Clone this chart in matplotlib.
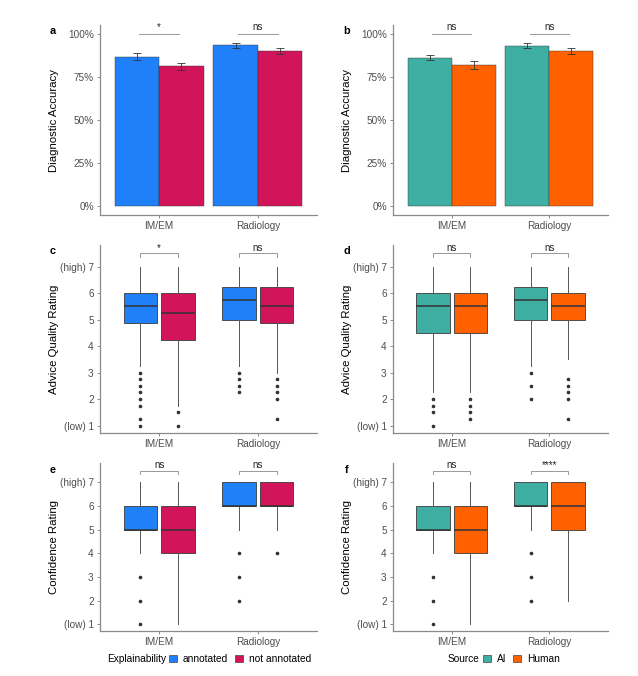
import matplotlib
matplotlib.use("Agg")
import matplotlib.pyplot as plt
from matplotlib.patches import Patch

plt.rcParams['font.family'] = ['Liberation Sans', 'DejaVu Sans']

# ---- data ----
categories = ["IM/EM", "Radiology"]

# diagnostic accuracy (mean, error half-width)
acc_annot = [0.867, 0.932]
acc_annot_err = [0.019, 0.015]
acc_notannot = [0.811, 0.898]
acc_notannot_err = [0.021, 0.017]
acc_ai = [0.861, 0.931]
acc_ai_err = [0.014, 0.013]
acc_human = [0.819, 0.902]
acc_human_err = [0.023, 0.017]

# box stats per category: [whisker low, q1, median, q3, whisker high]
qual_annot_box = [[3.25, 4.875, 5.5, 6.0, 7.0], [3.25, 5.0, 5.75, 6.25, 7.0]]
qual_annot_out = [[3.0, 2.75, 2.5, 2.25, 2.0, 1.75, 1.25, 1.0], [3.0, 2.75, 2.5, 2.25]]
qual_notannot_box = [[1.75, 4.25, 5.25, 6.0, 7.0], [3.0, 4.875, 5.5, 6.25, 7.0]]
qual_notannot_out = [[1.5, 1.0], [2.75, 2.5, 2.25, 2.0, 1.25]]
qual_ai_box = [[2.25, 4.5, 5.5, 6.0, 7.0], [3.25, 5.0, 5.75, 6.25, 7.0]]
qual_ai_out = [[2.0, 1.75, 1.5, 1.0], [3.0, 2.5, 2.0]]
qual_human_box = [[2.25, 4.5, 5.5, 6.0, 7.0], [3.5, 5.0, 5.5, 6.0, 7.0]]
qual_human_out = [[2.0, 1.75, 1.5, 1.25], [2.75, 2.5, 2.25, 2.0, 1.25]]

conf_annot_box = [[4, 5, 5, 6, 7], [5, 6, 6, 7, 7]]
conf_annot_out = [[3, 2, 1], [4, 3, 2]]
conf_notannot_box = [[1, 4, 5, 6, 7], [5, 6, 6, 7, 7]]
conf_notannot_out = [[], [4]]
conf_ai_box = [[4, 5, 5, 6, 7], [5, 6, 6, 7, 7]]
conf_ai_out = [[3, 2, 1], [4, 3, 2]]
conf_human_box = [[1, 4, 5, 6, 7], [2, 5, 6, 7, 7]]
conf_human_out = [[], []]

sig_a = ["*", "ns"]
sig_b = ["ns", "ns"]
sig_c = ["*", "ns"]
sig_d = ["ns", "ns"]
sig_e = ["ns", "ns"]
sig_f = ["ns", "****"]

BLUE = "#1F80FA"
RED = "#D2145A"
TEAL = "#3FAEA3"
ORANGE = "#FF6100"
SPINE = "#8a8a8a"
TICKTXT = "#4d4d4d"
TICKSIZE = 7.2
LABSIZE = 8.2
LEGSIZE = 7.3

W, H = 638, 676
fig = plt.figure(figsize=(W / 100, H / 100), dpi=100)


def make_ax(l, t, r, b):
    ax = fig.add_axes([l / W, 1 - b / H, (r - l) / W, (b - t) / H])
    for s in ["top", "right"]:
        ax.spines[s].set_visible(False)
    for s in ["left", "bottom"]:
        ax.spines[s].set_color(SPINE)
        ax.spines[s].set_linewidth(0.9)
    ax.tick_params(colors=SPINE, labelcolor=TICKTXT, labelsize=TICKSIZE, length=2.5, width=0.7,
                   pad=2)
    ax.set_xlim(0.4, 2.6)
    ax.set_xticks([1, 2])
    ax.set_xticklabels(categories)
    return ax


def bar_panel(ax, left, left_err, right, right_err, c1, c2, sig):
    x = [1, 2]
    ax.bar([v - 0.225 for v in x], left, width=0.45, color=c1, edgecolor="#333333", linewidth=0.3)
    ax.bar([v + 0.225 for v in x], right, width=0.45, color=c2, edgecolor="#333333", linewidth=0.3)
    ax.errorbar([v - 0.225 for v in x], left, yerr=left_err, fmt="none", ecolor="#333333",
                elinewidth=0.6, capsize=3.2, capthick=0.6)
    ax.errorbar([v + 0.225 for v in x], right, yerr=right_err, fmt="none", ecolor="#333333",
                elinewidth=0.6, capsize=3.2, capthick=0.6)
    for i, s in enumerate(sig):
        ax.plot([x[i] - 0.2, x[i] + 0.2], [1.0, 1.0], color="#999999", lw=0.7)
        ax.text(x[i], 1.008, s, ha="center", va="bottom", fontsize=7, color="#222222")
    ax.set_ylim(-0.05, 1.05)
    ax.set_yticks([0, 0.25, 0.5, 0.75, 1.0])
    ax.set_yticklabels(["0%", "25%", "50%", "75%", "100%"])
    ax.set_ylabel("Diagnostic Accuracy", fontsize=LABSIZE)


def box_stats(box, out):
    stats = []
    for b, o in zip(box, out):
        stats.append({"whislo": b[0], "q1": b[1], "med": b[2], "q3": b[3], "whishi": b[4],
                      "fliers": o})
    return stats


def box_panel(ax, box1, out1, box2, out2, c1, c2, sig, ylabel):
    x = [1, 2]
    for box, out, col, off in [(box1, out1, c1, -0.19), (box2, out2, c2, 0.19)]:
        ax.bxp(box_stats(box, out), positions=[v + off for v in x], widths=0.34,
               patch_artist=True, showcaps=False,
               boxprops=dict(facecolor=col, edgecolor="#3a3a3a", linewidth=0.6),
               medianprops=dict(color="#333333", linewidth=1.1),
               whiskerprops=dict(color="#555555", linewidth=0.7),
               flierprops=dict(marker="o", markersize=1.6, markerfacecolor="#333333",
                               markeredgecolor="#333333"))
    for i, s in enumerate(sig):
        ax.plot([x[i] - 0.19, x[i] - 0.19, x[i] + 0.19, x[i] + 0.19], [7.37, 7.5, 7.5, 7.37],
                color="#999999", lw=0.7)
        ax.text(x[i], 7.53, s, ha="center", va="bottom", fontsize=7, color="#222222")
    ax.set_xlim(0.4, 2.6)
    ax.set_xticks([1, 2])
    ax.set_xticklabels(categories)
    ax.set_ylim(0.72, 7.82)
    ax.set_yticks([1, 2, 3, 4, 5, 6, 7])
    ax.set_yticklabels(["(low) 1", "2", "3", "4", "5", "6", "(high) 7"])
    ax.set_ylabel(ylabel, fontsize=LABSIZE)


ax_a = make_ax(100, 25, 317, 215)
ax_b = make_ax(393, 25, 608, 215)
ax_c = make_ax(100, 245, 317, 433)
ax_d = make_ax(393, 245, 608, 433)
ax_e = make_ax(100, 463, 317, 631)
ax_f = make_ax(393, 463, 608, 631)

bar_panel(ax_a, acc_annot, acc_annot_err, acc_notannot, acc_notannot_err, BLUE, RED, sig_a)
bar_panel(ax_b, acc_ai, acc_ai_err, acc_human, acc_human_err, TEAL, ORANGE, sig_b)
box_panel(ax_c, qual_annot_box, qual_annot_out, qual_notannot_box, qual_notannot_out,
          BLUE, RED, sig_c, "Advice Quality Rating")
box_panel(ax_d, qual_ai_box, qual_ai_out, qual_human_box, qual_human_out,
          TEAL, ORANGE, sig_d, "Advice Quality Rating")
box_panel(ax_e, conf_annot_box, conf_annot_out, conf_notannot_box, conf_notannot_out,
          BLUE, RED, sig_e, "Confidence Rating")
box_panel(ax_f, conf_ai_box, conf_ai_out, conf_human_box, conf_human_out,
          TEAL, ORANGE, sig_f, "Confidence Rating")

for ax in [ax_a, ax_b, ax_c, ax_d, ax_e, ax_f]:
    ax.yaxis.set_label_coords(-0.19, 0.5)

# panel letters
for letter, (px, py) in zip("abcdef", [(53, 31), (347, 31), (53, 251), (347, 251), (53, 470), (347, 470)]):
    fig.text(px / W, 1 - py / H, letter, fontsize=7.8, fontweight="bold", ha="center", va="center")

# legends
fig.text(166 / W, 1 - 659 / H, "Explainability", fontsize=LEGSIZE, ha="right", va="center")
fig.legend(handles=[Patch(facecolor=BLUE, edgecolor="#444444", linewidth=0.5, label="annotated"),
                    Patch(facecolor=RED, edgecolor="#444444", linewidth=0.5, label="not annotated")],
           loc="center left", bbox_to_anchor=(169 / W, 1 - 659 / H), ncol=2, frameon=False,
           fontsize=LEGSIZE, handlelength=0.75, handleheight=0.75, handletextpad=0.6,
           columnspacing=0.7, borderpad=0, borderaxespad=0)
fig.text(479 / W, 1 - 659 / H, "Source", fontsize=LEGSIZE, ha="right", va="center")
fig.legend(handles=[Patch(facecolor=TEAL, edgecolor="#444444", linewidth=0.5, label="AI"),
                    Patch(facecolor=ORANGE, edgecolor="#444444", linewidth=0.5, label="Human")],
           loc="center left", bbox_to_anchor=(483 / W, 1 - 659 / H), ncol=2, frameon=False,
           fontsize=LEGSIZE, handlelength=0.75, handleheight=0.75, handletextpad=0.6,
           columnspacing=0.7, borderpad=0, borderaxespad=0)

fig.savefig("out.png", dpi=100)
